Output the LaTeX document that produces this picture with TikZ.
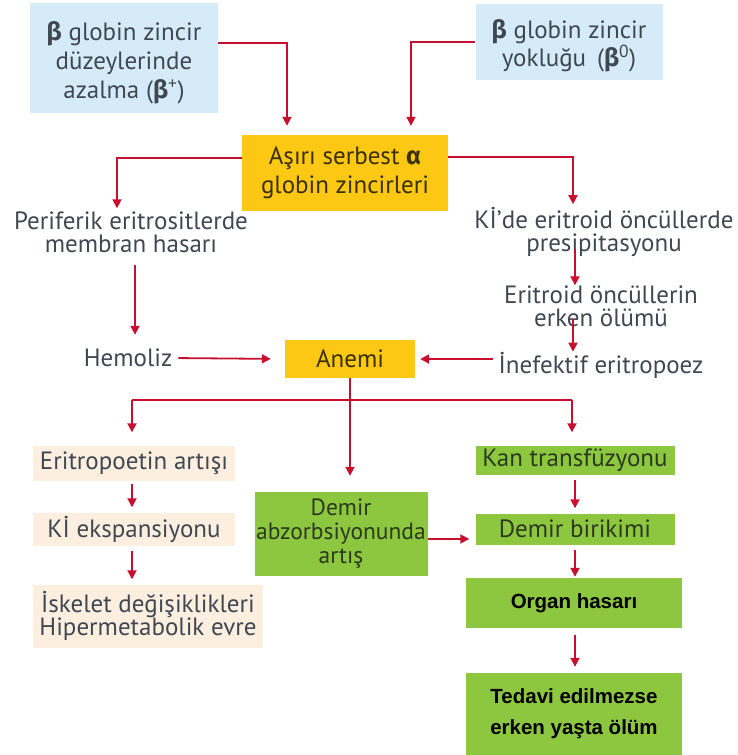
\documentclass[tikz,border=0pt]{standalone}
\usepackage{fontspec}
\setmainfont{PT Sans}
\newfontfamily\grk{Fira Sans}
\newfontfamily\arial{Liberation Sans}
\usetikzlibrary{arrows.meta}
\definecolor{lblue}{HTML}{D5ECF8}
\definecolor{gold}{HTML}{FCC813}
\definecolor{lgreen}{HTML}{8DC63F}
\definecolor{peach}{HTML}{FDEFE0}
\definecolor{arrred}{HTML}{C8102E}
\definecolor{txt}{HTML}{3F4852}
\definecolor{gtxt}{HTML}{2B3A1E}
\definecolor{ytxt}{HTML}{3A3000}
\begin{document}
\begin{tikzpicture}[x=1pt,y=-1pt,
  every node/.style={font=\fontsize{25}{26}\selectfont, text=txt, align=center},
  box/.style={rectangle, inner sep=0pt},
  bluebox/.style={box, fill=lblue},
  goldbox/.style={box, fill=gold, text=ytxt},
  greenbox/.style={box, fill=lgreen, text=gtxt},
  peachbox/.style={box, fill=peach},
  plain/.style={inner sep=0pt},
  line/.style={draw=arrred, line width=1.8pt},
  arr/.style={line, -{Triangle[length=9pt,width=9pt]}}]
\useasboundingbox (0,0) rectangle (737,755);
% nodes
\node[bluebox, minimum width=188pt, minimum height=110pt] (b1) at (124,58) {};
\node[plain, font=\fontsize{25}{29}\selectfont, yshift=-5pt] (b1t) at (b1.center)
  {{\grk\bfseries β} globin zincir\\düzeylerinde\\azalma ({\grk\bfseries β}\textsuperscript{+})};
\node[bluebox, minimum width=187pt, minimum height=76pt] (b2) at (569,42) {};
\node[plain, font=\fontsize{25}{27}\selectfont, yshift=-4pt] (b2t) at (b2.center)
  {{\grk\bfseries β} globin zincir\\yokluğu \,({\grk\bfseries β}\textsuperscript{0})};
\node[goldbox, minimum width=206pt, minimum height=76pt, font=\fontsize{25}{29}\selectfont] (asiri) at (345,173)
  {Aşırı serbest {\grk\bfseries α}\\globin zincirleri};
\node[plain, font=\fontsize{25}{23}\selectfont] (per) at (131,232) {Periferik eritrositlerde\\membran hasarı};
\node[plain] (hem) at (128,358) {Hemoliz};
\node[goldbox, minimum width=130pt, minimum height=38pt] (anemi) at (350,359) {Anemi};
\node[plain, font=\fontsize{25}{23}\selectfont] (kide) at (604,232) {Kİ’de eritroid öncüllerde\\presipitasyonu};
\node[plain, font=\fontsize{25}{23}\selectfont] (eri) at (601,306) {Eritroid öncüllerin\\erken ölümü};
\node[plain] (inef) at (601,365) {İnefektif eritropoez};
\node[peachbox, minimum width=202pt, minimum height=35pt] (epo) at (134,463) {Eritropoetin artışı};
\node[peachbox, minimum width=202pt, minimum height=33pt] (kie) at (134,529) {Kİ ekspansiyonu};
\node[peachbox, minimum width=230pt, minimum height=63pt, font=\fontsize{25}{23}\selectfont] (isk) at (148,616) {İskelet değişiklikleri\\Hipermetabolik evre};
\node[greenbox, minimum width=173pt, minimum height=84pt, font=\fontsize{23.5}{24}\selectfont] (dem) at (341,534) {Demir\\abzorbsiyonunda\\artış};
\node[greenbox, minimum width=199pt, minimum height=29pt] (kan) at (575,460) {Kan transfüzyonu};
\node[greenbox, minimum width=199pt, minimum height=31pt] (dbir) at (575,529) {Demir birikimi};
\node[greenbox, minimum width=216pt, minimum height=50pt, text=black, font=\arial\bfseries\fontsize{20.5}{30}\selectfont] (org) at (574,603) {Organ hasarı};
\node[greenbox, minimum width=216pt, minimum height=82pt, text=black, font=\arial\bfseries\fontsize{20.5}{31}\selectfont] (ted) at (574,714) {Tedavi edilmezse\\erken yaşta ölüm};
% connectors
\draw[arr, shorten >=9pt] (b1.east |- 0,43) -| (asiri.north -| 287,0);
\draw[arr, shorten >=9pt] (b2.west |- 0,42) -| (asiri.north -| 411,0);
\draw[arr, shorten >=3pt] (asiri.west |- 0,158) -| (per.north -| 117,0);
\draw[arr, shorten >=3pt] (asiri.east |- 0,157) -| (kide.north -| 573,0);
\draw[arr, shorten <=12pt, shorten >=14pt] (per.south -| 135,0) -- (hem.north -| 135,0);
\draw[arr, shorten <=6pt, shorten >=14pt] (hem.east) -- (anemi.west);
\draw[arr, shorten <=5pt, shorten >=5pt] (inef.west |- 0,359) -- (anemi.east |- 0,359);
\draw[arr, shorten <=-8pt, shorten >=0pt] (kide.south -| 575,0) -- (eri.north -| 575,0);
\draw[arr, shorten <=-8pt, shorten >=0pt] (eri.south -| 573,0) -- (inef.north -| 573,0);
\coordinate (bl) at (132,400);
\coordinate (br) at (572,400);
\draw[line] (bl) -- (br);
\draw[arr, shorten >=16pt] (anemi.south -| 350,0) -- (dem.north -| 350,0);
\draw[arr, shorten >=13pt] (bl) -- (bl |- epo.north);
\draw[arr, shorten >=13pt] (br) -- (br |- kan.north);
\draw[arr, shorten <=3pt, shorten >=5pt] (epo.south -| 132,0) -- (kie.north -| 132,0);
\draw[arr, shorten <=5pt, shorten >=5pt] (kie.south -| 132,0) -- (isk.north -| 132,0);
\draw[arr, shorten >=6pt] (dem.east |- 0,539) -- (dbir.west |- 0,539);
\draw[arr, shorten <=5pt, shorten >=5pt] (kan.south -| 575,0) -- (dbir.north -| 575,0);
\draw[arr, shorten <=5pt, shorten >=1pt] (dbir.south -| 575,0) -- (org.north -| 575,0);
\draw[arr, shorten <=7pt, shorten >=6pt] (org.south -| 575,0) -- (ted.north -| 575,0);
\end{tikzpicture}
\end{document}
